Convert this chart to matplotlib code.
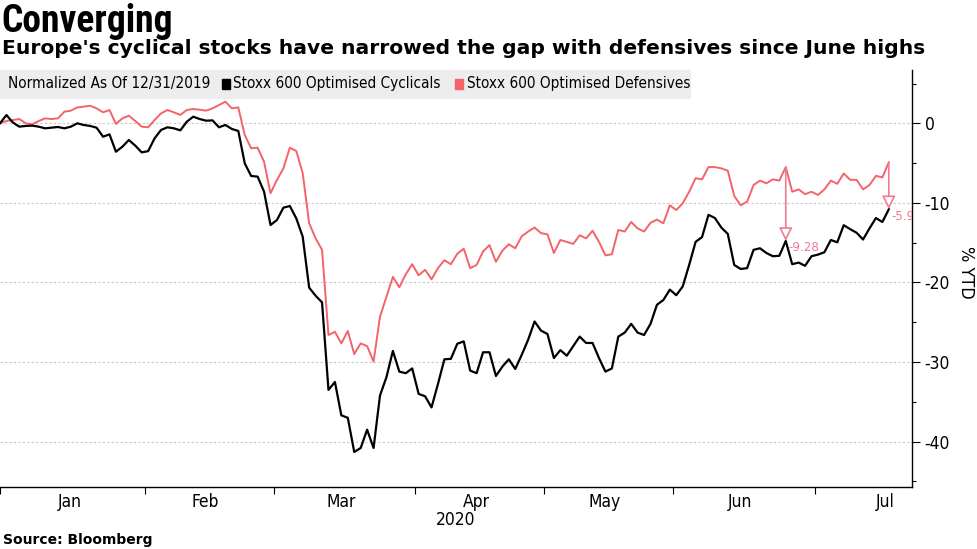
import matplotlib
matplotlib.use('Agg')
import matplotlib.pyplot as plt
import pandas as pd
from matplotlib.patches import Rectangle

# % YTD, normalized as of 12/31/2019, one value per trading day
cyclicals = [
    0.0, 1.04, 0.1, -0.42, -0.33, -0.29, -0.42, -0.63, -0.55, -0.46,
    -0.63, -0.42, 0.0, -0.21, -0.33, -0.55, -1.68, -1.39, -3.57, -2.94,
    -2.1, -2.8, -3.65, -3.5, -1.89, -0.84, -0.5, -0.63, -0.88, 0.2,
    0.83, 0.54, 0.33, 0.37, -0.5, -0.21, -0.71, -0.96, -5.03, -6.62,
    -6.7, -8.59, -12.78, -12.15, -10.6, -10.39, -11.94, -14.25, -20.65, -21.66,
    -22.5, -33.5, -32.5, -36.7, -37.0, -41.3, -40.8, -38.5, -40.8, -34.2,
    -31.9, -28.6, -31.2, -31.4, -30.8, -34.0, -34.3, -35.7, -32.75, -29.65,
    -29.6, -27.7, -27.4, -31.07, -31.4, -28.77, -28.77, -31.75, -30.57, -29.65,
    -30.87, -29.1, -27.2, -24.9, -26.05, -26.47, -29.5, -28.5, -29.2, -28.0,
    -26.8, -27.6, -27.6, -29.5, -31.2, -30.8, -26.8, -26.3, -25.2, -26.3,
    -26.6, -25.2, -22.8, -22.2, -20.9, -21.6, -20.5, -17.8, -14.9, -14.3,
    -11.5, -11.9, -13.1, -13.9, -17.8, -18.3, -18.2, -15.9, -15.7, -16.3,
    -16.7, -16.65, -14.78, -17.7, -17.5, -17.9, -16.7, -16.5, -16.2, -14.66,
    -14.95, -12.8, -13.3, -13.75, -14.6, -13.2, -11.9, -12.4, -10.8,
]
defensives = [
    0.0, 0.29, 0.41, 0.54, 0.0, -0.13, 0.29, 0.62, 0.54, 0.62,
    1.46, 1.59, 2.0, 2.09, 2.21, 1.88, 1.38, 1.67, -0.08, 0.62,
    0.96, 0.29, -0.42, -0.5, 0.41, 1.25, 1.67, 1.38, 1.05, 1.67,
    1.8, 1.71, 1.59, 1.88, 2.3, 2.72, 1.88, 2.0, -1.47, -3.14,
    -3.06, -4.83, -8.79, -7.12, -5.66, -3.06, -3.48, -6.28, -12.56, -14.45,
    -15.9, -26.6, -26.2, -27.65, -26.1, -29.0, -27.65, -28.0, -29.95, -24.3,
    -21.8, -19.3, -20.6, -18.97, -17.7, -19.1, -18.4, -19.6, -18.2, -17.2,
    -17.7, -16.4, -15.75, -18.2, -17.8, -16.1, -15.3, -17.4, -16.0, -15.2,
    -15.7, -14.2, -13.6, -13.1, -13.8, -13.95, -16.3, -14.66, -14.9, -15.16,
    -14.07, -14.45, -13.5, -14.9, -16.6, -16.45, -13.4, -13.6, -12.4, -13.2,
    -13.6, -12.5, -12.1, -12.56, -10.3, -10.9, -10.05, -8.6, -6.9, -7.04,
    -5.5, -5.5, -5.66, -5.95, -9.13, -10.3, -9.85, -7.75, -7.2, -7.54,
    -7.04, -7.2, -5.5, -8.6, -8.3, -8.9, -8.6, -9.0, -8.3, -7.2,
    -7.6, -6.3, -7.1, -7.1, -8.3, -7.75, -6.6, -6.8, -4.9,
]
# gap annotations: (trading-day index, label)
gaps = [(122, '-9.28'), (138, '-5.90')]
y_major = [0, -10, -20, -30, -40]
y_minor = [5, -5, -15, -25, -35, -45]

holidays = pd.to_datetime(['2020-01-01', '2020-04-10', '2020-04-13', '2020-05-01'])
days = pd.bdate_range('2019-12-31', '2020-07-31')
days = days[~days.isin(holidays)]
x = list(range(len(cyclicals)))

plt.rcParams['font.family'] = 'DejaVu Sans'
plt.rcParams['font.stretch'] = 'condensed'
plt.rcParams['axes.unicode_minus'] = False

black = '#000000'
red = '#f4636a'
pink = '#f27a96'

fig = plt.figure(figsize=(9.77, 5.49), dpi=100)
ax = fig.add_axes([0, 1 - 487 / 549, 912 / 977, (487 - 70) / 549])

ax.plot(x, defensives, color=red, lw=1.4, zorder=3)
ax.plot(x, cyclicals, color=black, lw=1.6, zorder=4)

for i, label in gaps:
    ax.annotate('', xy=(i, cyclicals[i]), xytext=(i, defensives[i]),
                arrowprops=dict(arrowstyle='-|>,head_length=0.8,head_width=0.4',
                                fc='white', ec=pink, lw=1.2,
                                shrinkA=0, shrinkB=0), zorder=5)
    ax.annotate(label, xy=(i, cyclicals[i]), xytext=(2, -5),
                textcoords='offset points', color=pink, fontsize=9.5,
                va='center', ha='left', annotation_clip=False, clip_on=True)

ax.set_xlim(0, 141.6)
ax.set_ylim(-45.7, 6.7)

# month boundaries and month centres on the trading-day axis
month_id = days.year * 12 + days.month
starts = [i for i in range(1, len(days)) if month_id[i] != month_id[i - 1]]
bounds = [-0.5] + [s - 0.5 for s in starts] + [len(days) - 0.5]
centres = [(bounds[k] + bounds[k + 1]) / 2 for k in range(1, len(bounds) - 1)]
names = [days[s].strftime('%b') for s in [1] + starts[1:]]
ax.set_xticks([0] + [s - 0.5 for s in starts[1:]])
ax.set_xticks([c - 0.6 for c in centres], minor=True)
ax.set_xticklabels(names, minor=True)
ax.tick_params(axis='x', which='major', length=5, width=0.8, labelbottom=False)
ax.tick_params(axis='x', which='minor', length=0, pad=4, labelsize=12.5)

ax.yaxis.tick_right()
ax.set_yticks(y_major)
ax.set_yticks(y_minor, minor=True)
ax.tick_params(axis='y', which='major', length=6, width=0.8, labelsize=12.5, pad=3)
ax.tick_params(axis='y', which='minor', length=3, width=0.8)
ax.grid(axis='y', which='major', linestyle=(0, (2, 2)), color='#c8c8c8', lw=0.8)

for s in ['top', 'left']:
    ax.spines[s].set_visible(False)
for s in ['bottom', 'right']:
    ax.spines[s].set_linewidth(1.0)

fig.text(966 / 977, 1 - 272 / 549, '% YTD', rotation=270, fontsize=13,
         ha='center', va='center')
ax.text(0.5, -0.08, '2020', transform=ax.transAxes, ha='center', va='center',
        fontsize=12.5)

# titles
fig.text(1 / 977, 1 - 3 / 549, 'Converging', fontsize=27, fontweight='bold',
         family='Roboto Condensed', va='top', ha='left')
fig.text(2 / 977, 1 - 39 / 549,
         "Europe's cyclical stocks have narrowed the gap with defensives since June highs",
         fontsize=14.55, fontweight='bold', fontstretch='normal', va='top', ha='left')
fig.text(3 / 977, 1 - 540 / 549, 'Source: Bloomberg', fontsize=10, fontweight='bold',
         fontstretch='normal', va='center', ha='left')

# legend strip
fig.patches.append(Rectangle((0, 1 - 98 / 549), 690 / 977, 28 / 549,
                             transform=fig.transFigure, color='#ededed', zorder=10))
ly = 1 - 84 / 549
fig.text(8 / 977, ly, 'Normalized As Of 12/31/2019', fontsize=11, va='center', zorder=11)
fig.patches.append(Rectangle((222 / 977, ly - 4.5 / 549), 8 / 977, 9 / 549,
                             transform=fig.transFigure, color=black, zorder=11))
fig.text(233 / 977, ly, 'Stoxx 600 Optimised Cyclicals', fontsize=11, va='center', zorder=11)
fig.patches.append(Rectangle((455 / 977, ly - 4.5 / 549), 8 / 977, 9 / 549,
                             transform=fig.transFigure, color=red, zorder=11))
fig.text(467 / 977, ly, 'Stoxx 600 Optimised Defensives', fontsize=11, va='center', zorder=11)

fig.savefig('out.png', dpi=100)
